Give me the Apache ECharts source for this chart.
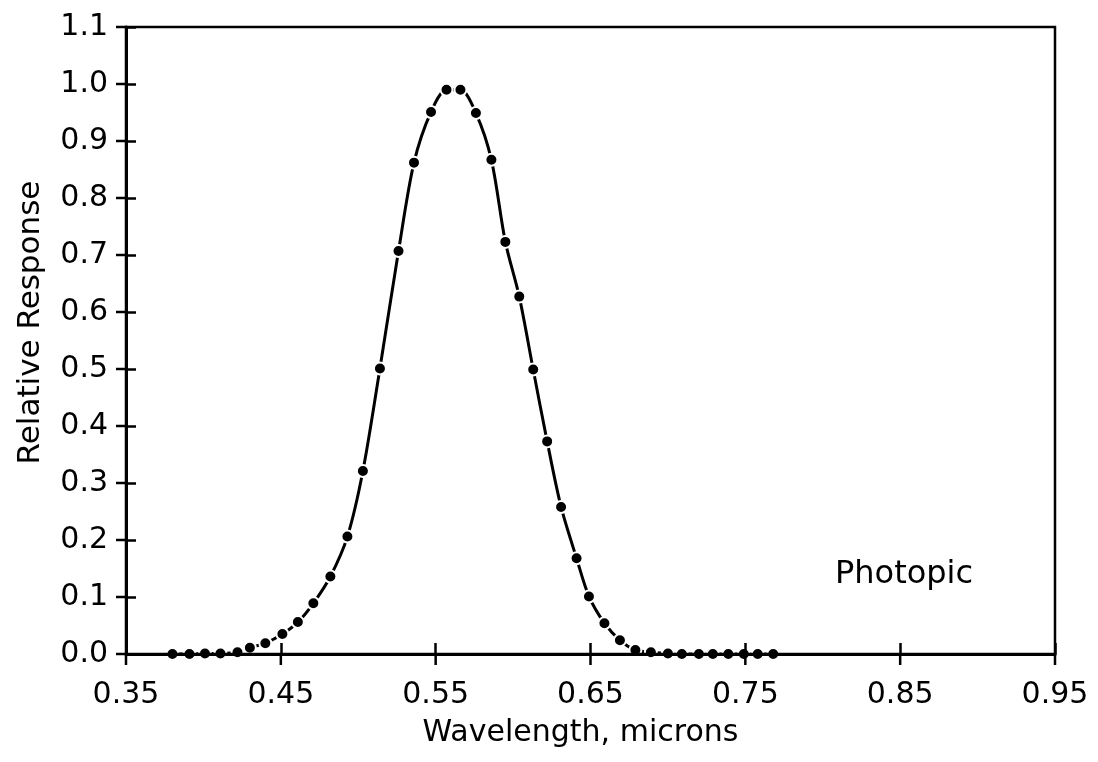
<!DOCTYPE html>
<html>
<head>
<meta charset="utf-8">
<script src="https://cdn.jsdelivr.net/npm/echarts@6/dist/echarts.min.js"></script>
<style>
html,body{margin:0;padding:0;background:#fff;}
#chart{width:1098px;height:762px;}
</style>
</head>
<body>
<div id="chart"></div>
<script>
// Wavelength (microns) of each plotted point
const wavelength = [0.380,0.391,0.401,0.411,0.422,0.430,0.440,0.451,0.461,0.471,
                    0.482,0.493,0.503,0.514,0.526,0.536,0.547,0.557,0.566,0.576,
                    0.586,0.595,0.604,0.613,0.622,0.631,0.641,0.649,0.659,0.669,
                    0.679,0.689,0.700,0.709,0.720,0.729,0.739,0.749,0.758,0.768];
// Relative response (photopic)
const response = [0.000,0.000,0.001,0.001,0.003,0.011,0.019,0.035,0.056,0.089,
                  0.136,0.206,0.321,0.501,0.707,0.862,0.951,0.990,0.990,0.949,
                  0.867,0.723,0.627,0.499,0.373,0.258,0.168,0.101,0.054,0.024,
                  0.007,0.003,0.001,0.000,0.000,0.000,0.000,0.000,0.000,0.000];
const xTickLabels = ['0.35','0.45','0.55','0.65','0.75','0.85','0.95'];
const yTickLabels = ['0.0','0.1','0.2','0.3','0.4','0.5','0.6','0.7','0.8','0.9','1.0','1.1'];
const xTitle = 'Wavelength, microns';
const yTitle = 'Relative Response';
const curveLabel = 'Photopic';

const FONT = 'DejaVu Sans';
const chart = echarts.init(document.getElementById('chart'), null, {renderer:'canvas'});
const points = wavelength.map((w, i) => [w, response[i]]);

const X_MIN = 0.35, X_MAX = 0.95, Y_MIN = 0, Y_MAX = 1.1;

chart.setOption({
  animation: false,
  backgroundColor: '#fff',
  grid: {left: 126, right: 43, top: 27, bottom: 108, show: true,
         borderColor: '#000', borderWidth: 2.5},
  xAxis: {
    type: 'value', min: X_MIN, max: X_MAX, interval: 0.1,
    splitLine: {show: false},
    axisLine: {show: true, onZero: false, lineStyle: {color: '#000', width: 3}},
    axisTick: {show: true, inside: true, length: 11, lineStyle: {color: '#000', width: 2.5}},
    axisLabel: {show: true, color: '#000', fontFamily: FONT, fontSize: 30, margin: 26,
                formatter: v => xTickLabels[Math.round((v - X_MIN) / 0.1)] || ''},
    name: xTitle, nameLocation: 'middle', nameGap: 64,
    nameTextStyle: {color: '#000', fontFamily: FONT, fontSize: 30, padding: [0, 20, 0, 0]}
  },
  yAxis: {
    type: 'value', min: Y_MIN, max: Y_MAX, interval: 0.1,
    splitLine: {show: false},
    axisLine: {show: true, onZero: false, lineStyle: {color: '#000', width: 3}},
    axisTick: {show: true, inside: true, length: 10, lineStyle: {color: '#000', width: 2.5}},
    axisLabel: {show: true, color: '#000', fontFamily: FONT, fontSize: 30, margin: 18,
                formatter: v => yTickLabels[Math.round(v * 10)] || ''},
    name: yTitle, nameLocation: 'middle', nameGap: 80, nameRotate: 90,
    nameTextStyle: {color: '#000', fontFamily: FONT, fontSize: 31, padding: [0, 0, 0, 36]}
  },
  series: [{
    type: 'line',
    data: points,
    smooth: 0.3,
    symbol: 'circle', symbolSize: 12,
    lineStyle: {color: '#000', width: 3},
    itemStyle: {color: '#000', borderColor: '#fff', borderWidth: 2},
    z: -1
  }]
});

// Outer halves of the crossing ticks, placed through the chart's own scales
const extras = [{
  type: 'text', left: 835, top: 559,
  style: {text: curveLabel, font: '32px "DejaVu Sans"', fill: '#000'}
}];
xTickLabels.forEach(lbl => {
  const p = chart.convertToPixel({gridIndex: 0}, [parseFloat(lbl), Y_MIN]);
  extras.push({type: 'line',
    shape: {x1: p[0], y1: p[1], x2: p[0], y2: p[1] + 11},
    style: {stroke: '#000', lineWidth: 2.5}});
});
yTickLabels.forEach(lbl => {
  const p = chart.convertToPixel({gridIndex: 0}, [X_MIN, parseFloat(lbl)]);
  extras.push({type: 'line',
    shape: {x1: p[0], y1: p[1], x2: p[0] - 10, y2: p[1]},
    style: {stroke: '#000', lineWidth: 2.5}});
});
chart.setOption({graphic: extras});
</script>
</body>
</html>
